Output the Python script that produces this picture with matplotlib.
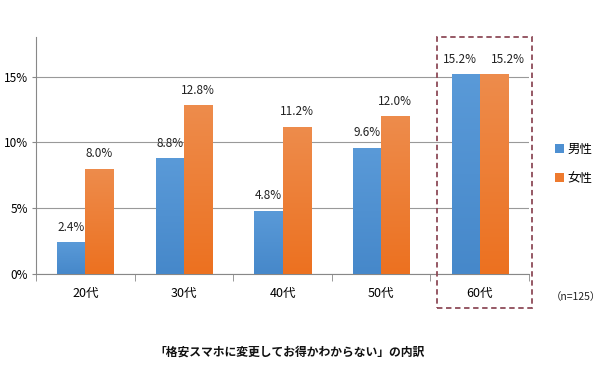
import matplotlib
matplotlib.use("Agg")
import matplotlib.pyplot as plt
from matplotlib.patches import Rectangle
from matplotlib.colors import LinearSegmentedColormap
import numpy as np

plt.rcParams['font.family'] = ['Noto Sans CJK JP', 'DejaVu Sans']

categories = ['20代', '30代', '40代', '50代', '60代']
male = [2.4, 8.8, 4.8, 9.6, 15.2]
female = [8.0, 12.8, 11.2, 12.0, 15.2]
series_names = ['男性', '女性']
yticks = [0, 5, 10, 15]
ytick_labels = ['0%', '5%', '10%', '15%']
title = '「格安スマホに変更してお得かわからない」の内訳'
note = '（n=125）'

fig = plt.figure(figsize=(6.0, 3.68), dpi=100)
ax = fig.add_axes([36/600, 1-274/368, (529-36)/600, (274-37)/368])

x = np.arange(len(categories))
w = 0.284
c_m = '#4E90D2'
c_f = '#EE7A2E'
grad_m = LinearSegmentedColormap.from_list('gm', ['#4688CA', '#5A9AD8'])
grad_f = LinearSegmentedColormap.from_list('gf', ['#EC7120', '#EE8C4C'])

b1 = ax.bar(x - w/2, male, w, color=c_m, label=series_names[0], zorder=3)
b2 = ax.bar(x + w/2, female, w, color=c_f, label=series_names[1], zorder=3)

grad = np.linspace(0, 1, 256).reshape(-1, 1)
for bars, cm in ((b1, grad_m), (b2, grad_f)):
    for bar in bars:
        bx, by = bar.get_x(), bar.get_y()
        bw, bh = bar.get_width(), bar.get_height()
        im = ax.imshow(grad, cmap=cm, aspect='auto', origin='lower',
                       extent=(bx, bx + bw, by, by + bh), zorder=3.1)
        im.set_clip_path(bar)

label_dx_m = [0, 0, 0, 0, -6]
label_dx_f = [0, 0, 0, 0, 14]
for xi, v, dx in zip(x, male, label_dx_m):
    ax.annotate(f'{v:.1f}%', (xi - w/2, v), xytext=(dx * 0.72, 6), textcoords='offset points',
                ha='center', va='bottom', fontsize=8.5, color='#222222')
for xi, v, dx in zip(x, female, label_dx_f):
    ax.annotate(f'{v:.1f}%', (xi + w/2, v), xytext=(dx * 0.72, 6), textcoords='offset points',
                ha='center', va='bottom', fontsize=8.5, color='#222222')

ax.set_xlim(-0.5, len(categories) - 0.5)
ax.set_ylim(0, 18)
ax.set_yticks(yticks)
ax.set_yticklabels(ytick_labels, fontsize=8.5)
ax.yaxis.grid(True, color='#999999', linewidth=0.8, zorder=0)
ax.set_axisbelow(True)

ax.set_xticks(x)
ax.set_xticklabels(categories, fontsize=9)
ax.tick_params(axis='x', length=0, pad=9)
ax.set_xticks(np.arange(len(categories) + 1) - 0.5, minor=True)
ax.tick_params(axis='x', which='minor', length=5, color='#888888', direction='out')
ax.tick_params(axis='y', length=3, color='#888888', pad=3)

for s in ['top', 'right']:
    ax.spines[s].set_visible(False)
ax.spines['left'].set_color('#888888')
ax.spines['bottom'].set_color('#888888')

leg = ax.legend(loc='center left', bbox_to_anchor=(1.03, 0.464), frameon=False,
                fontsize=9, handlelength=0.7, handleheight=0.7, handletextpad=0.3,
                labelspacing=1.25)

# dashed highlight box around 60代
rect = Rectangle((437/600, 1-308/368), (532-437)/600, (308-37)/368,
                 transform=fig.transFigure, fill=False, edgecolor='#8E4B58',
                 linestyle=(0, (3, 2)), linewidth=1.3, clip_on=False)
fig.patches.append(rect)

fig.text(576/600, 1-297/368, note, ha='center', va='center', fontsize=7.5, color='#222222')
fig.text(290/600, 1-352/368, title, ha='center', va='center', fontsize=8.5, fontweight='bold', color='#111111')

fig.savefig('out.png', dpi=100)
